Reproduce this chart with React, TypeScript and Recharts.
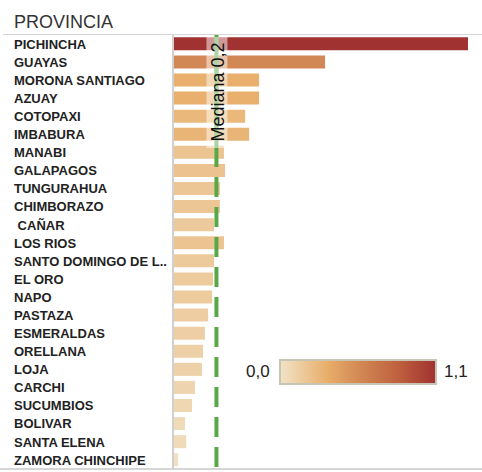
import { Bar, BarChart, Cell, ReferenceLine, XAxis, YAxis } from "recharts";

const provincias = [
  "PICHINCHA",
  "GUAYAS",
  "MORONA SANTIAGO",
  "AZUAY",
  "COTOPAXI",
  "IMBABURA",
  "MANABI",
  "GALAPAGOS",
  "TUNGURAHUA",
  "CHIMBORAZO",
  " CAÑAR",
  "LOS RIOS",
  "SANTO DOMINGO DE LOS TSACHILAS",
  "EL ORO",
  "NAPO",
  "PASTAZA",
  "ESMERALDAS",
  "ORELLANA",
  "LOJA",
  "CARCHI",
  "SUCUMBIOS",
  "BOLIVAR",
  "SANTA ELENA",
  "ZAMORA CHINCHIPE",
];

const tasas = [
  1.1, 0.567, 0.321, 0.321, 0.269, 0.284, 0.19, 0.194, 0.175, 0.175, 0.153, 0.19,
  0.153, 0.149, 0.146, 0.131, 0.119, 0.112, 0.108, 0.082, 0.071, 0.045, 0.049, 0.019,
];

const mediana = 0.162;
const escalaMin = 0;
const escalaMax = 1.1;
const escalaEtiquetas = ["0,0", "1,1"];

const colorStops: Array<[number, string]> = [
  [0, "#f1e2c6"],
  [0.3, "#e8ae6a"],
  [0.5, "#d38a55"],
  [0.75, "#c0623f"],
  [1, "#a03331"],
];

const data = provincias.map((provincia, i) => ({ provincia, tasa: tasas[i] }));

function hexToRgb(hex: string) {
  const n = parseInt(hex.slice(1), 16);
  return [(n >> 16) & 255, (n >> 8) & 255, n & 255];
}

function colorFor(v: number) {
  const t = Math.max(0, Math.min(1, (v - escalaMin) / (escalaMax - escalaMin)));
  for (let i = 1; i < colorStops.length; i++) {
    const [t0, c0] = colorStops[i - 1];
    const [t1, c1] = colorStops[i];
    if (t <= t1) {
      const f = (t - t0) / (t1 - t0);
      const a = hexToRgb(c0);
      const b = hexToRgb(c1);
      const rgb = a.map((x, k) => Math.round(x + (b[k] - x) * f));
      return `rgb(${rgb.join(",")})`;
    }
  }
  return colorStops[colorStops.length - 1][1];
}

const FONT = "'Liberation Sans', Arial, sans-serif";

function ProvinciaTick(props: any) {
  const { y, payload } = props;
  const name: string = payload.value;
  const label = name.length > 20 ? name.slice(0, 18) + ".." : name;
  return (
    <text
      x={14}
      y={y}
      dy="0.36em"
      fontFamily={FONT}
      fontSize={13}
      fontWeight="bold"
      fill="#222"
      style={{ whiteSpace: "pre" }}
    >
      {label}
    </text>
  );
}

function MedianaLabel(props: any) {
  const { viewBox } = props;
  const x = viewBox.x;
  const top = viewBox.y;
  const cy = top + 57;
  return (
    <g>
      <line x1={x} x2={x} y1={top + 2} y2={top + 112} stroke="#59a848" strokeWidth={4} />
      <rect x={x - 10} y={top + 2} width={21} height={111} fill="#ffffff" fillOpacity={0.5} />
      <text
        x={x + 1}
        y={cy}
        transform={`rotate(-90 ${x + 1} ${cy})`}
        textAnchor="middle"
        dy="0.36em"
        fontFamily={FONT}
        fontSize={18}
        fill="#111"
      >
        Mediana 0,2
      </text>
    </g>
  );
}

export default function App() {
  return (
    <div style={{ position: "absolute", left: 0, top: 0, width: 482, height: 472, background: "#fff" }}>
      <div
        style={{
          position: "absolute",
          left: 14,
          top: 11,
          fontFamily: FONT,
          fontSize: 18,
          color: "#333",
          lineHeight: "22px",
        }}
      >
        PROVINCIA
      </div>
      <div style={{ position: "absolute", left: 3, top: 34, width: 479, height: 1, background: "#d6d6d6" }} />
      <div style={{ position: "absolute", left: 0, top: 468, width: 482, height: 2, background: "#d6d6d6" }} />
      <BarChart
        width={482}
        height={472}
        data={data}
        layout="vertical"
        margin={{ top: 35, right: 14, bottom: 3, left: 0 }}
        barCategoryGap="13%"
      >
        <XAxis type="number" hide domain={[escalaMin, escalaMax]} />
        <YAxis
          type="category"
          dataKey="provincia"
          width={173}
          tick={<ProvinciaTick />}
          tickLine={false}
          axisLine={{ stroke: "#d0d0d0", strokeWidth: 2 }}
          interval={0}
        />
        <Bar dataKey="tasa" isAnimationActive={false}>
          {data.map((d, i) => (
            <Cell key={`${d.provincia}-${i}`} fill={colorFor(d.tasa)} />
          ))}
        </Bar>
        <ReferenceLine
          x={mediana}
          stroke="#59a848"
          strokeWidth={4}
          strokeDasharray="20 10"
          strokeDashoffset={-2}
          label={<MedianaLabel />}
        />
      </BarChart>
      <div
        style={{
          position: "absolute",
          left: 246,
          top: 361,
          fontFamily: FONT,
          fontSize: 17,
          color: "#222",
          lineHeight: "22px",
        }}
      >
        {escalaEtiquetas[0]}
      </div>
      <div
        style={{
          position: "absolute",
          left: 279,
          top: 359,
          width: 154,
          height: 22,
          border: "2px solid #c9c5b5",
          background: `linear-gradient(to right, ${colorStops.map(([t, c]) => `${c} ${t * 100}%`).join(", ")})`,
        }}
      />
      <div
        style={{
          position: "absolute",
          left: 444,
          top: 361,
          fontFamily: FONT,
          fontSize: 17,
          color: "#222",
          lineHeight: "22px",
        }}
      >
        {escalaEtiquetas[1]}
      </div>
    </div>
  );
}
